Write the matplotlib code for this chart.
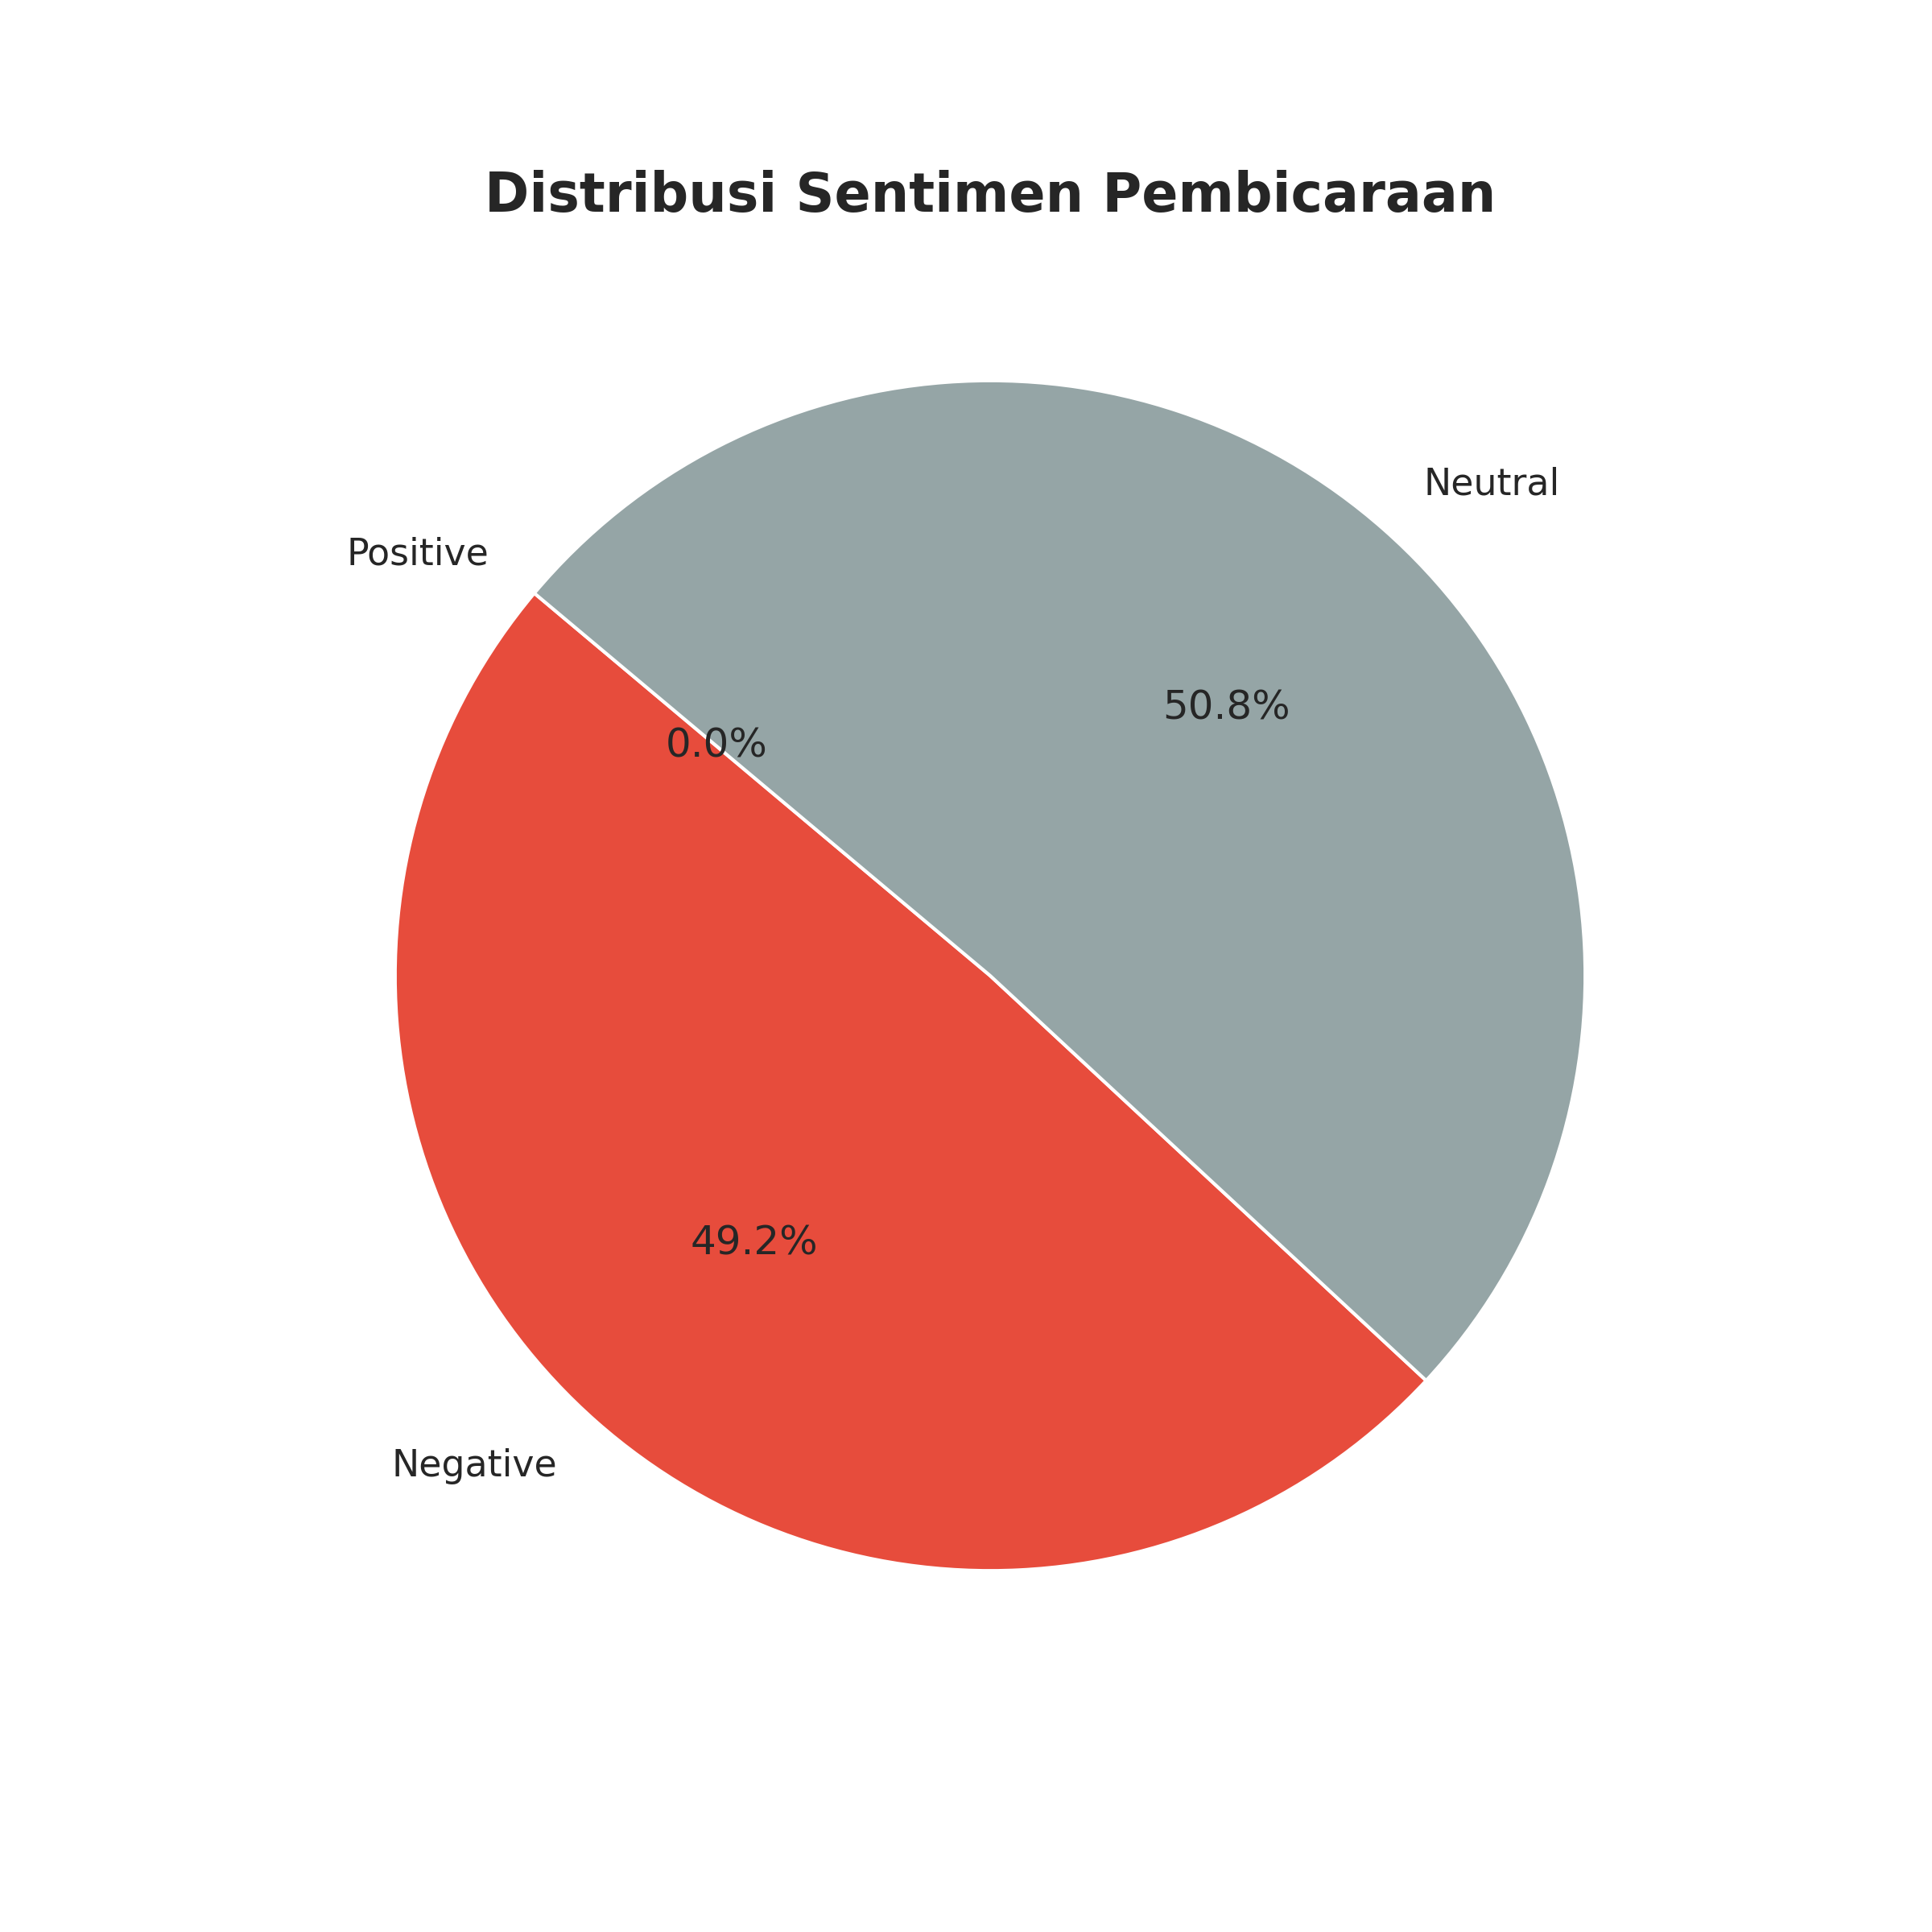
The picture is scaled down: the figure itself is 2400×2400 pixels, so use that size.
import matplotlib.pyplot as plt
import seaborn as sns

sns.set_theme(style="white")

labels = ["Positive", "Negative", "Neutral"]
percentages = [0.0, 49.2, 50.8]
colors = ["#2ecc71", "#e74c3c", "#95a5a6"]

fig, ax = plt.subplots(figsize=(8, 8))
wedges, texts, autotexts = ax.pie(
    percentages,
    labels=labels,
    colors=colors,
    autopct="%1.1f%%",
    startangle=140,
    wedgeprops={"edgecolor": "white", "linewidth": 1},
    textprops={"fontsize": 11},
)
for t in autotexts:
    t.set_fontsize(12)
ax.set_title("Distribusi Sentimen Pembicaraan", fontsize=16, fontweight="bold")

plt.savefig("out.png", dpi=300)
